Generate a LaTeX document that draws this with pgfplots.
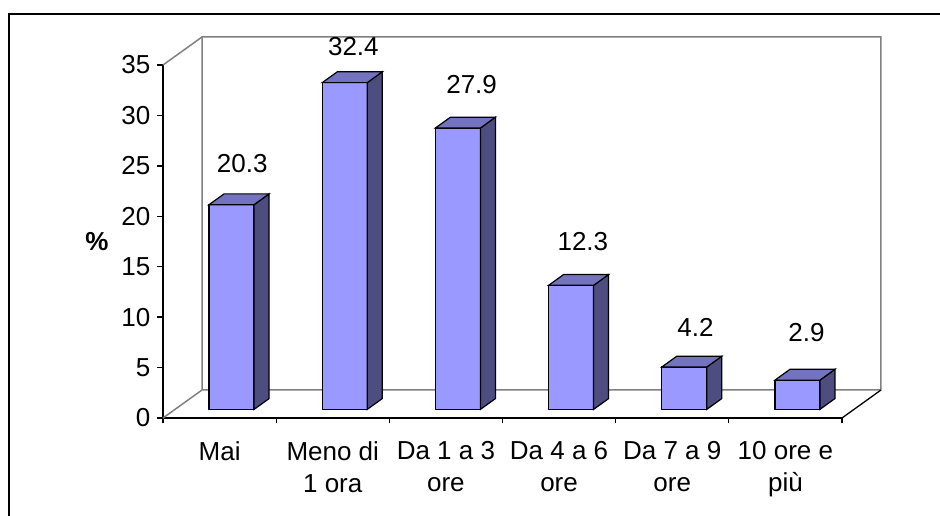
\documentclass[border=0pt]{standalone}
\usepackage{pgfplots}
\pgfplotsset{compat=1.18}
\usepackage{pgfplotstable}
\usepackage{fontspec}
\setmainfont{Liberation Sans}

\definecolor{barfront}{HTML}{9999FF}
\definecolor{bartop}{HTML}{7373BF}
\definecolor{barside}{HTML}{4D4D80}
\definecolor{wallgray}{HTML}{808080}

\newcommand\chartfont{\fontsize{26}{31.5}\selectfont}

% share of respondents (%) per class of hours; lx, ly = label offset (pt)
% from the centre of the front top edge of each bar
\pgfplotstableread{
x y    lx   ly
0 20.3 10.7 41.3
1 32.4 8.6  35.7
2 27.9 13.7 43.3
3 12.3 11.8 44.0
4 4.2  11.3 40.0
5 2.9  9.0  47.4
}\hourstable

% pseudo-3D geometry (pt)
\def\unity{10.0857}   % pt per percentage point (353pt / 35)
\def\barhw{22.5pt}    % half width of a bar's front face
\def\frontdx{12pt}    % front face of the bars, set back into the depth
\def\frontdy{8.6pt}
\def\bardx{15pt}      % depth of a bar
\def\bardy{10.8pt}
\def\wallx{0.34462}   % depth of the box, in axis units
\def\wally{2.7762}

% a bar as a prism: the mark sits at (category, value) on the front plane
\pgfdeclareplotmark{prism}{%
  \pgfmathsetlengthmacro\barh{\barval*\unity pt}%
  \pgftransformshift{\pgfpoint{\frontdx}{\frontdy}}%
  \pgfsetlinewidth{1.2pt}%
  \pgfsetstrokecolor{black}%
  \pgfsetmiterjoin
  % front
  \pgfsetfillcolor{barfront}%
  \pgfpathmoveto{\pgfpoint{-\barhw}{0pt}}%
  \pgfpathlineto{\pgfpoint{\barhw}{0pt}}%
  \pgfpathlineto{\pgfpoint{\barhw}{-\barh}}%
  \pgfpathlineto{\pgfpoint{-\barhw}{-\barh}}%
  \pgfpathclose
  \pgfusepath{fill,stroke}%
  % side
  \pgfsetfillcolor{barside}%
  \pgfpathmoveto{\pgfpoint{\barhw}{0pt}}%
  \pgfpathlineto{\pgfpoint{\barhw+\bardx}{\bardy}}%
  \pgfpathlineto{\pgfpoint{\barhw+\bardx}{\bardy-\barh}}%
  \pgfpathlineto{\pgfpoint{\barhw}{-\barh}}%
  \pgfpathclose
  \pgfusepath{fill,stroke}%
  % top
  \pgfsetfillcolor{bartop}%
  \pgfpathmoveto{\pgfpoint{-\barhw}{0pt}}%
  \pgfpathlineto{\pgfpoint{\barhw}{0pt}}%
  \pgfpathlineto{\pgfpoint{\barhw+\bardx}{\bardy}}%
  \pgfpathlineto{\pgfpoint{-\barhw+\bardx}{\bardy}}%
  \pgfpathclose
  \pgfusepath{fill,stroke}%
}

\begin{document}
\begin{tikzpicture}
\useasboundingbox (0pt,0pt) rectangle (940pt,516pt);
\draw[line width=2pt] (9pt,0pt) -- (9pt,502pt) -- (940pt,502pt);
\begin{axis}[
  at={(163pt,98pt)}, anchor=south west,
  scale only axis, width=679pt, height=353pt,
  xmin=-0.5, xmax=5.5, ymin=0, ymax=35,
  clip=false,
  axis lines*=left,
  axis line style={line width=1.3pt},
  every tick/.style={black, line width=1.3pt},
  tick align=outside,
  major tick length=5.5pt,
  /pgf/number format/assume math mode=true,
  ytick={0,5,...,35},
  xtick={-0.5,0.5,...,5.5},
  x tick label as interval,
  xticklabels={Mai, {Meno di\\1 ora}, {Da 1 a 3\\ore}, {Da 4 a 6\\ore}, {Da 7 a 9\\ore}, {10 ore e\\più}},
  tick label style={font=\chartfont},
  yticklabel style={anchor=east, inner sep=0pt, xshift=-7pt},
  xticklabel style={anchor=north, inner sep=0pt, align=center, yshift=-18pt},
  every axis y label/.style={at={(axis description cs:-0.0972,0.5)}, anchor=center, font=\chartfont\bfseries},
  ylabel={\%},
]
% back wall and floor outline
\draw[wallgray, line width=1.5pt]
  (axis cs:-0.5,0) -- (axis cs:-0.5+\wallx,\wally)
  -- (axis cs:-0.5+\wallx,35+\wally) -- (axis cs:5.5+\wallx,35+\wally)
  -- (axis cs:5.5+\wallx,\wally) -- (axis cs:-0.5+\wallx,\wally);
\draw[wallgray, line width=1.5pt] (axis cs:-0.5,35) -- (axis cs:-0.5+\wallx,35+\wally);
\draw[black, line width=1.3pt] (axis cs:5.5,0) -- (axis cs:5.5+\wallx,\wally);

% bars: front, side and top faces drawn for every row
\addplot[
  scatter, only marks, mark=prism,
  visualization depends on={\thisrow{y} \as \barval},
  visualization depends on={\thisrow{lx} \as \labx},
  visualization depends on={\thisrow{ly} \as \laby},
  scatter/@pre marker code/.code={\pgfscope},
  scatter/@post marker code/.code={\endpgfscope},
  point meta=y,
  nodes near coords={\pgfmathprintnumber[fixed,precision=1,zerofill]{\pgfplotspointmeta}},
  every node near coord/.append style={anchor=center, inner sep=0pt, font=\chartfont,
    xshift={\labx pt}, yshift={\laby pt}},
] table[x=x, y=y] {\hourstable};
\end{axis}
\end{tikzpicture}
\end{document}
